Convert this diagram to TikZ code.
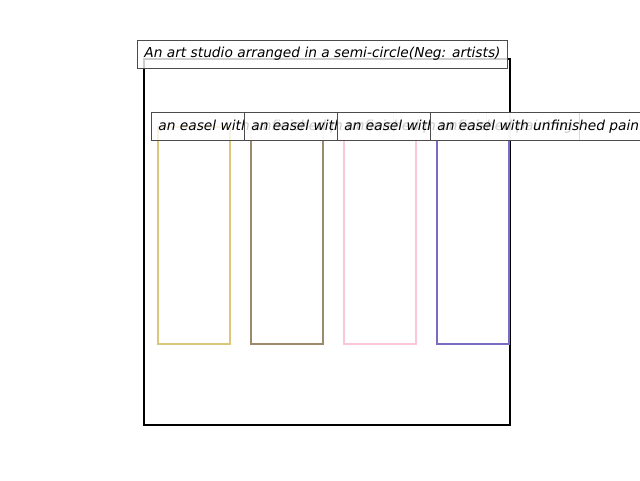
\documentclass[tikz,border=0pt]{standalone}
\usepackage{fontspec}
\setmainfont{DejaVu Sans}
\usetikzlibrary{positioning}

\definecolor{easelkhaki}{HTML}{DBC77A}
\definecolor{easelbrown}{HTML}{9B8A6C}
\definecolor{easelpink}{HTML}{F9C6DC}
\definecolor{easelpurple}{HTML}{7A6CC4}

\tikzset{
  labelbox/.style={draw=black!70, line width=0.8pt, fill=white, fill opacity=0.8, text opacity=1,
    inner xsep=7pt, minimum height=28pt, font=\fontsize{13.75}{16}\selectfont\itshape},
  easel/.style={line width=2.3pt}
}

\begin{document}
\begin{tikzpicture}[x=1pt, y=-1pt]

\clip (0,0) rectangle (640,480);
\useasboundingbox (0,0) rectangle (640,480);

% the studio
\draw[line width=2.2pt] (144,59) rectangle (510,425);

% the easels
\draw[easel, easelkhaki]  (158,127) rectangle (230,344);
\draw[easel, easelbrown]  (251,127) rectangle (323,344);
\draw[easel, easelpink]   (344,127) rectangle (416,344);
\draw[easel, easelpurple] (437,127) rectangle (509,344);

% title
\node[labelbox, anchor=west] (title) at (137,54) {An art studio arranged in a semi-circle(Neg: artists)};

% easel labels
\node[labelbox, anchor=west] (lab1) at (151,126.5) {an easel with unfinished painting};
\node[labelbox, anchor=west] (lab2) at (244,126.5) {an easel with unfinished painting};
\node[labelbox, anchor=west] (lab3) at (337,126.5) {an easel with unfinished painting};
\node[labelbox, anchor=west] (lab4) at (430,126.5) {an easel with unfinished painting};

\end{tikzpicture}
\end{document}
